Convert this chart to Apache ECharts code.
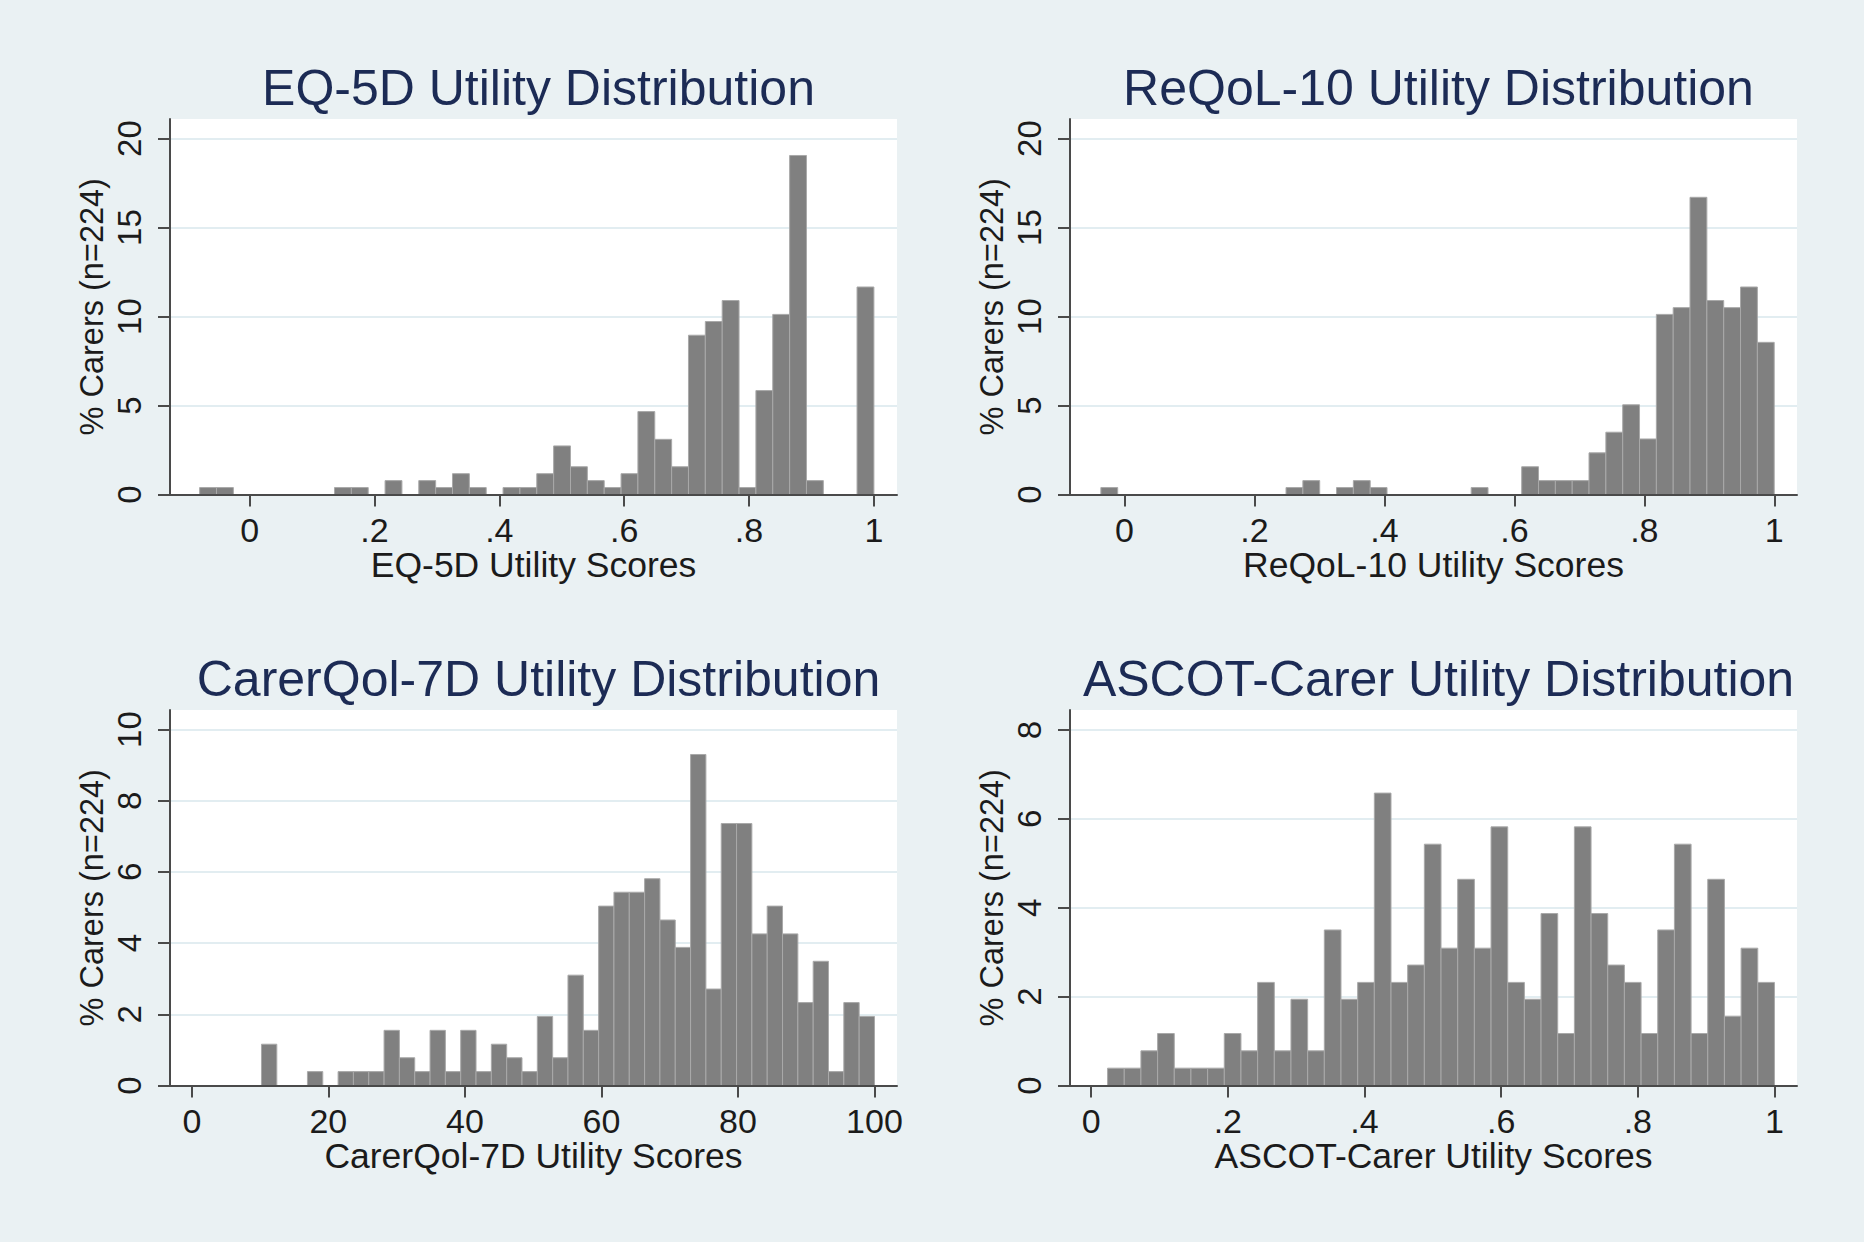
<!DOCTYPE html>
<html>
<head>
<meta charset="utf-8">
<script src="https://cdn.jsdelivr.net/npm/echarts@6/dist/echarts.min.js"></script>
<style>
  html, body { margin: 0; padding: 0; background: #eaf1f3; }
  #chart { width: 1864px; height: 1242px; }
</style>
</head>
<body>
<div id="chart"></div>
<script>
// panel texts
const titles = [
  "EQ-5D Utility Distribution",
  "ReQoL-10 Utility Distribution",
  "CarerQol-7D Utility Distribution",
  "ASCOT-Carer Utility Distribution",
];
const xNames = [
  "EQ-5D Utility Scores",
  "ReQoL-10 Utility Scores",
  "CarerQol-7D Utility Scores",
  "ASCOT-Carer Utility Scores",
];
const yName = "% Carers (n=224)";

// tick values
const scoreTicks = [0, 0.2, 0.4, 0.6, 0.8, 1];
const carerTicks = [0, 20, 40, 60, 80, 100];
const pctTicksTop = [0, 5, 10, 15, 20];
const pctTicksCarer = [0, 2, 4, 6, 8, 10];
const pctTicksAscot = [0, 2, 4, 6, 8];

// histogram bins: first edge, bin width, percent per bin
const eqBinStart = -0.08;
const eqBinWidth = 0.027;
const eqPercent = [0.39, 0.39, 0, 0, 0, 0, 0, 0, 0.39, 0.39,
  0, 0.78, 0, 0.78, 0.39, 1.17, 0.39, 0, 0.39, 0.39,
  1.17, 2.73, 1.56, 0.78, 0.39, 1.17, 4.66, 3.1, 1.56, 8.95,
  9.72, 10.9, 0.39, 5.84, 10.12, 19.05, 0.78, 0, 0, 11.66];

const reqolBinStart = -0.0365;
const reqolBinWidth = 0.02591;
const reqolPercent = [0.39, 0, 0, 0, 0, 0, 0, 0, 0, 0,
  0, 0.39, 0.78, 0, 0.39, 0.78, 0.39, 0, 0, 0,
  0, 0, 0.39, 0, 0, 1.56, 0.78, 0.78, 0.78, 2.34,
  3.5, 5.04, 3.12, 10.12, 10.5, 16.7, 10.9, 10.5, 11.66, 8.55];

const carerBinStart = 10.2;
const carerBinWidth = 2.245;
const carerPercent = [1.16, 0, 0, 0.39, 0, 0.39, 0.39, 0.39, 1.55, 0.78,
  0.39, 1.55, 0.39, 1.55, 0.39, 1.16, 0.78, 0.39, 1.94, 0.78,
  3.1, 1.55, 5.04, 5.43, 5.43, 5.81, 4.65, 3.88, 9.3, 2.71,
  7.36, 7.36, 4.26, 5.04, 4.26, 2.33, 3.49, 0.39, 2.33, 1.94];

const ascotBinStart = 0.024;
const ascotBinWidth = 0.0244;
const ascotPercent = [0.39, 0.39, 0.78, 1.17, 0.39, 0.39, 0.39, 1.17, 0.78, 2.32,
  0.78, 1.94, 0.78, 3.5, 1.94, 2.32, 6.58, 2.32, 2.71, 5.43,
  3.09, 4.64, 3.09, 5.82, 2.32, 1.94, 3.87, 1.17, 5.82, 3.87,
  2.71, 2.32, 1.17, 3.5, 5.43, 1.17, 4.64, 1.56, 3.09, 2.32];

// turn bins into [left, right, percent] rows for the custom series
function toBars(start, width, values) {
  const rows = [];
  values.forEach((v, i) => {
    if (v > 0) rows.push([start + i * width, start + (i + 1) * width, v]);
  });
  return rows;
}

const FONT = "Liberation Sans, Arial, sans-serif";
const TXT = "#1b1b1b";
const AXIS = "#4a4a4a";
const GRID_LINE = "#e2edf1";

const panels = [
  { left: 170, top: 119, xMin: -0.1275, xMax: 1.037, xTicks: scoreTicks,
    yMax: 21.1, yStep: 5, yTicks: pctTicksTop, bars: toBars(eqBinStart, eqBinWidth, eqPercent) },
  { left: 1070, top: 119, xMin: -0.084, xMax: 1.035, xTicks: scoreTicks,
    yMax: 21.1, yStep: 5, yTicks: pctTicksTop, bars: toBars(reqolBinStart, reqolBinWidth, reqolPercent) },
  { left: 170, top: 710, xMin: -3.2, xMax: 103.3, xTicks: carerTicks,
    yMax: 10.55, yStep: 2, yTicks: pctTicksCarer, bars: toBars(carerBinStart, carerBinWidth, carerPercent) },
  { left: 1070, top: 710, xMin: -0.031, xMax: 1.033, xTicks: scoreTicks,
    yMax: 8.45, yStep: 2, yTicks: pctTicksAscot, bars: toBars(ascotBinStart, ascotBinWidth, ascotPercent) },
];
const W = 727;
const H = 375.5;

function fmtScore(v) {
  if (v === 0 || v === 1 || Math.abs(v) >= 10) return String(v);
  return String(v).replace(/^0\./, ".");
}

function renderBar(params, api) {
  const p0 = api.coord([api.value(0), api.value(2)]);
  const p1 = api.coord([api.value(1), 0]);
  return {
    type: "rect",
    shape: { x: p0[0], y: p0[1], width: p1[0] - p0[0], height: p1[1] - p0[1] },
    style: { fill: "#808080", stroke: "#a9a9a9", lineWidth: 1 },
  };
}

const chart = echarts.init(document.getElementById("chart"), null, { renderer: "svg" });

chart.setOption({
  backgroundColor: "#eaf1f3",
  animation: false,
  title: panels.map((p, i) => ({
    text: titles[i],
    left: p.left + W / 2,
    top: p.top - 61,
    textAlign: "center",
    textStyle: { fontFamily: FONT, fontSize: 50, fontWeight: "normal", color: "#1c2b55" },
  })),
  grid: panels.map((p) => ({
    left: p.left, top: p.top, width: W, height: H,
    show: true, backgroundColor: "#ffffff", borderWidth: 0,
  })),
  xAxis: panels.map((p, i) => ({
    type: "value",
    gridIndex: i,
    min: p.xMin,
    max: p.xMax,
    z: 5, // keep the baseline above the bars
    name: xNames[i],
    nameLocation: "middle",
    nameGap: 44,
    nameTextStyle: { fontFamily: FONT, fontSize: 35.5, color: TXT },
    axisLine: { show: true, onZero: false, lineStyle: { color: AXIS, width: 2 } },
    axisTick: { show: true, inside: false, length: 12, customValues: p.xTicks,
      lineStyle: { color: AXIS, width: 2 } },
    axisLabel: { customValues: p.xTicks, margin: 18, formatter: fmtScore,
      fontFamily: FONT, fontSize: 34, color: TXT },
    splitLine: { show: false },
  })),
  yAxis: panels.map((p, i) => ({
    type: "value",
    gridIndex: i,
    min: 0,
    max: p.yMax,
    interval: p.yStep,
    z: 0, // gridlines stay behind the bars
    name: yName,
    nameLocation: "middle",
    nameRotate: 90,
    nameGap: 62,
    nameTextStyle: { fontFamily: FONT, fontSize: 32.5, color: TXT },
    axisLine: { show: true, onZero: false, lineStyle: { color: AXIS, width: 2 } },
    axisTick: { show: true, inside: false, length: 12, customValues: p.yTicks,
      lineStyle: { color: AXIS, width: 2 } },
    axisLabel: { customValues: p.yTicks, rotate: 90, margin: 24,
      fontFamily: FONT, fontSize: 33, color: TXT },
    // the extra line at the axis max is made transparent
    splitLine: { show: true, lineStyle: {
      width: 2,
      color: p.yTicks.map(() => GRID_LINE).concat(["rgba(0,0,0,0)"]),
    } },
  })),
  series: panels.map((p, i) => ({
    type: "custom",
    xAxisIndex: i,
    yAxisIndex: i,
    renderItem: renderBar,
    encode: { x: [0, 1], y: 2 },
    clip: true,
    z: 2,
    data: p.bars,
  })),
});
</script>
</body>
</html>
